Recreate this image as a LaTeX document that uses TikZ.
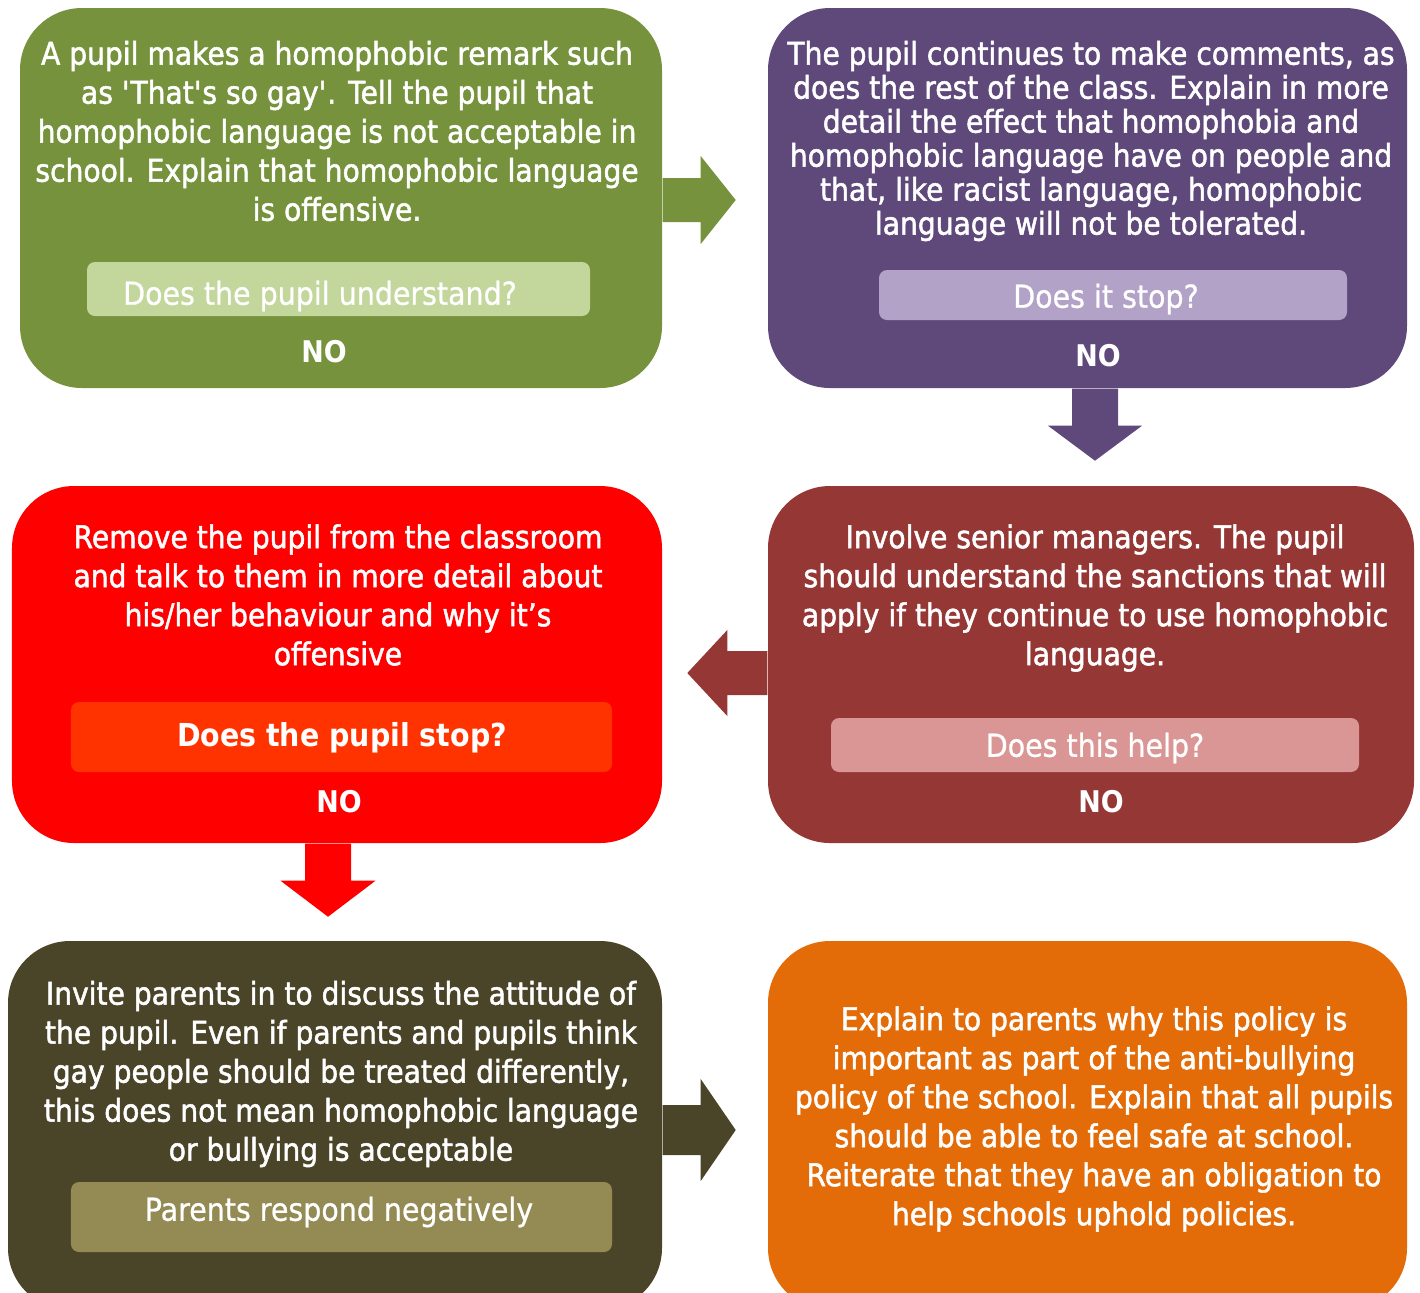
\documentclass[tikz,border=0pt]{standalone}
\usepackage{fontspec}
\setmainfont{DejaVu Sans}[FakeStretch=0.9]
\newfontfamily\sayfont{DejaVu Sans}[FakeStretch=0.9, FakeBold=1.6]
\newfontfamily\askfont{DejaVu Sans}[FakeStretch=0.9, FakeBold=0.8]
\usetikzlibrary{positioning}

\definecolor{cgreen}{HTML}{76923C}
\definecolor{cgreenq}{HTML}{C3D69B}
\definecolor{cpurple}{HTML}{5F497A}
\definecolor{cpurpleq}{HTML}{B2A2C7}
\definecolor{cred}{HTML}{FF0000}
\definecolor{credq}{HTML}{FF3300}
\definecolor{cbrick}{HTML}{953735}
\definecolor{cbrickq}{HTML}{D99694}
\definecolor{colive}{HTML}{4A4429}
\definecolor{coliveq}{HTML}{948A54}
\definecolor{corange}{HTML}{E36C09}

\tikzset{
	panel/.style={rounded corners=0.62cm, inner sep=0pt},
	askbox/.style={rounded corners=0.08cm, inner sep=0pt},
	say/.style={text=white, align=center, font=\sayfont\fontsize{8.9}{11.1}\selectfont},
	asktext/.style={text=white, font=\askfont\fontsize{9}{11}\selectfont},
	answer/.style={text=white, font=\bfseries\fontsize{8.5}{10}\selectfont},
}

\begin{document}
\begin{tikzpicture}
			\useasboundingbox (0, 0) rectangle (14.2, -12.92);
			\clip (0, 0) rectangle (14.2, -12.92);
			
			% panels
			\node[panel, fill=cgreen, minimum width=6.42cm, minimum height=3.80cm] (warn) at (3.41, -1.98) {};
			\node[panel, fill=cpurple, minimum width=6.39cm, minimum height=3.80cm] (explain) at (10.875, -1.98) {};
			\node[panel, fill=cred, minimum width=6.50cm, minimum height=3.57cm] (remove) at (3.37, -6.645) {};
			\node[panel, fill=cbrick, minimum width=6.46cm, minimum height=3.57cm] (senior) at (10.91, -6.645) {};
			\node[panel, fill=colive, minimum width=6.54cm, minimum height=3.69cm] (parents) at (3.35, -11.255) {};
			\node[panel, fill=corange, minimum width=6.39cm, minimum height=3.69cm] (policy) at (10.875, -11.255) {};
			
			% questions
			\node[askbox, fill=cgreenq, minimum width=5.03cm, minimum height=0.54cm] (warnq) at (3.385, -2.89) {};
			\node[askbox, fill=cpurpleq, minimum width=4.68cm, minimum height=0.50cm] (explainq) at (11.13, -2.95) {};
			\node[askbox, fill=credq, minimum width=5.41cm, minimum height=0.70cm] (removeq) at (3.415, -7.37) {};
			\node[askbox, fill=cbrickq, minimum width=5.28cm, minimum height=0.54cm] (seniorq) at (10.95, -7.45) {};
			\node[askbox, fill=coliveq, minimum width=5.41cm, minimum height=0.70cm] (parentsq) at (3.415, -12.17) {};
			
			% texts
			\node[say] (warnt) at (3.37, -1.31) {A pupil makes a homophobic remark such\\as \textquotesingle That\textquotesingle s so gay\textquotesingle . Tell the pupil that\\homophobic language is not acceptable in\\school. Explain that homophobic language\\is offensive.};
			\node[say, font=\sayfont\fontsize{8.9}{9.67}\selectfont] (explaint) at (10.91, -1.41) {The pupil continues to make comments, as\\does the rest of the class. Explain in more\\detail the effect that homophobia and\\homophobic language have on people and\\that, like racist language, homophobic\\language will not be tolerated.};
			\node[say] (removet) at (3.38, -5.95) {Remove the pupil from the classroom\\and talk to them in more detail about\\his/her behaviour and why it’s\\offensive};
			\node[say] (seniort) at (10.95, -5.98) {Involve senior managers. The pupil\\should understand the sanctions that will\\apply if they continue to use homophobic\\language.};
			\node[say] (parentst) at (3.41, -10.74) {Invite parents in to discuss the attitude of\\the pupil. Even if parents and pupils think\\gay people should be treated differently,\\this does not mean homophobic language\\or bullying is acceptable};
			\node[say] (policyt) at (10.94, -11.19) {Explain to parents why this policy is\\important as part of the anti-bullying\\policy of the school. Explain that all pupils\\should be able to feel safe at school.\\Reiterate that they have an obligation to\\help schools uphold policies.};
			
			\node[asktext] at (3.20, -2.96) {Does the pupil understand?};
			\node[asktext] at (11.06, -2.99) {Does it stop?};
			\node[asktext, font=\bfseries\fontsize{9}{11}\selectfont] at (3.42, -7.38) {Does the pupil stop?};
			\node[asktext] at (10.95, -7.48) {Does this help?};
			\node[asktext] at (3.39, -12.12) {Parents respond negatively};
			
			\node[answer] (warnno) at (3.24, -3.52) {NO};
			\node[answer] (explainno) at (10.98, -3.56) {NO};
			\node[answer] (removeno) at (3.39, -8.02) {NO};
			\node[answer] (seniorno) at (11.01, -8.02) {NO};
			
			% block arrows
			\fill[cgreen] ([yshift=-0.02cm]warn.east) ++(0, 0.22) -- ++(0.38, 0) -- ++(0, 0.22) -- ++(0.35, -0.44) -- ++(-0.35, -0.44) -- ++(0, 0.22) -- ++(-0.38, 0) -- cycle;
			\fill[cpurple] ([xshift=0.075cm]explain.south) ++(-0.23, 0) -- ++(0, -0.37) -- ++(-0.24, 0) -- ++(0.47, -0.35) -- ++(0.47, 0.35) -- ++(-0.24, 0) -- ++(0, 0.37) -- cycle;
			\fill[cbrick] ([yshift=-0.085cm]senior.west) ++(0, 0.22) -- ++(-0.40, 0) -- ++(0, 0.21) -- ++(-0.40, -0.43) -- ++(0.40, -0.43) -- ++(0, 0.21) -- ++(0.40, 0) -- cycle;
			\fill[cred] ([xshift=-0.09cm]remove.south) ++(-0.23, 0) -- ++(0, -0.37) -- ++(-0.245, 0) -- ++(0.475, -0.36) -- ++(0.475, 0.36) -- ++(-0.245, 0) -- ++(0, 0.37) -- cycle;
			\fill[colive] (parents.east |- 0, -11.30) ++(0, 0.25) -- ++(0.38, 0) -- ++(0, 0.26) -- ++(0.35, -0.51) -- ++(-0.35, -0.51) -- ++(0, 0.26) -- ++(-0.38, 0) -- cycle;
		\end{tikzpicture}
\end{document}
